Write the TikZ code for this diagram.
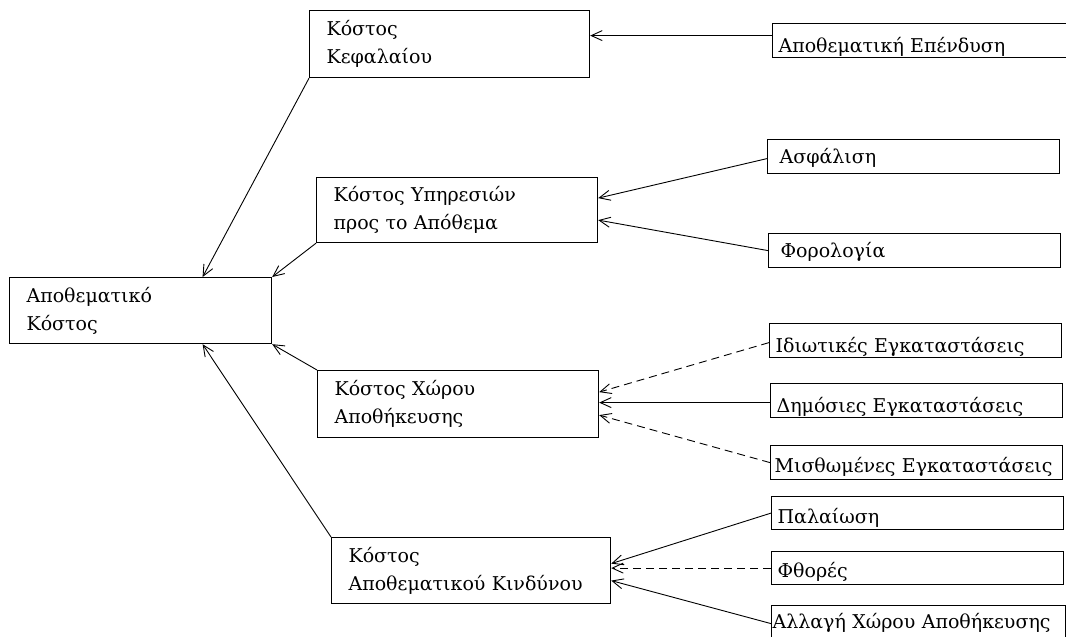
\documentclass[tikz,border=0pt]{standalone}
\usepackage{fontspec}
\setmainfont{DejaVu Serif}
\usetikzlibrary{arrows.meta}

\begin{document}
\begin{tikzpicture}[->,>={Straight Barb[length=11pt,width=10pt]},x=1pt,y=-1pt,
  line width=0.9pt,
  main node/.style={draw,line width=1.2pt,anchor=north west,inner xsep=17pt,inner ysep=0pt,
    text width=#1,align=left,minimum height=66pt,font=\fontsize{19}{28}\selectfont},
  item node/.style={draw,line width=1.2pt,anchor=north west,inner xsep=8pt,inner ysep=0pt,
    text width=276pt,align=left,text height=27pt,text depth=7pt,font=\fontsize{19}{24}\selectfont},
  opt/.style={dash pattern=on 8pt off 5pt}]

  \useasboundingbox (0,0) rectangle (1066,637);
  \clip (0,0) rectangle (1066,637);

  \node[main node=228pt] (1) at (9,277) {Αποθεματικό\\Κόστος};
  \node[main node=246pt,minimum height=67pt] (2) at (309,10) {Κόστος\\Κεφαλαίου};
  \node[main node=247pt,minimum height=65pt] (3) at (316,177) {Κόστος Υπηρεσιών\\προς το Απόθεμα};
  \node[main node=247pt,minimum height=67pt] (4) at (317,370) {Κόστος Χώρου\\Αποθήκευσης};
  \node[main node=245pt] (5) at (331,537) {Κόστος\\Αποθεματικού Κινδύνου};

  \node[item node,text width=300pt,inner xsep=6pt,text height=29pt,text depth=5pt] (6) at (772,23) {Αποθεματική Επένδυση};
  \node[item node,inner xsep=12pt,text width=268pt,text height=24pt,text depth=10pt] (7) at (767,139) {Ασφάλιση};
  \node[item node,inner xsep=12pt,text width=268pt,text height=24pt,text depth=10pt] (8) at (768,233) {Φορολογία};
  \node[item node,inner xsep=6pt,text width=280pt,text height=29pt,text depth=5pt] (9) at (769,323) {Ιδιωτικές Εγκαταστάσεις};
  \node[item node,inner xsep=6pt,text width=280pt,text height=29pt,text depth=5pt] (10) at (770,383) {Δημόσιες Εγκαταστάσεις};
  \node[item node,inner xsep=4pt,text width=284pt] (11) at (770,445) {Μισθωμένες Εγκαταστάσεις};
  \node[item node,inner xsep=6pt,text width=280pt,text depth=6pt] (12) at (771,496) {Παλαίωση};
  \node[item node,inner xsep=6pt,text width=280pt,text height=26pt] (13) at (771,551) {Φθορές};
  \node[item node,inner xsep=1pt,text width=292pt,text height=23pt,text depth=13pt] (14) at (771,605) {Αλλαγή Χώρου Αποθήκευσης};

  \path
    (2.south west) edge ([xshift=62pt]1.north)
    (3.south west) edge (1.north east)
    (4.north west) edge (1.south east)
    (5.north west) edge ([xshift=62pt]1.south)
    ([yshift=5pt]6.west) edge ([yshift=5pt]6.west -| 2.east)
    ([yshift=-2pt]7.west) edge ([yshift=12pt]3.east)
    (8.west) edge ([yshift=-10pt]3.east)
    ([yshift=-2pt]9.west) edge[opt] ([yshift=12pt]4.east)
    ([yshift=-2pt]10.west) edge ([yshift=-2pt]10.west -| 4.east)
    (11.west) edge[opt] ([yshift=-11pt]4.east)
    (12.west) edge ([yshift=7pt]5.east)
    (13.west) edge[opt] (13.west -| 5.east)
    (14.west) edge ([yshift=-10pt]5.east);
\end{tikzpicture}
\end{document}
